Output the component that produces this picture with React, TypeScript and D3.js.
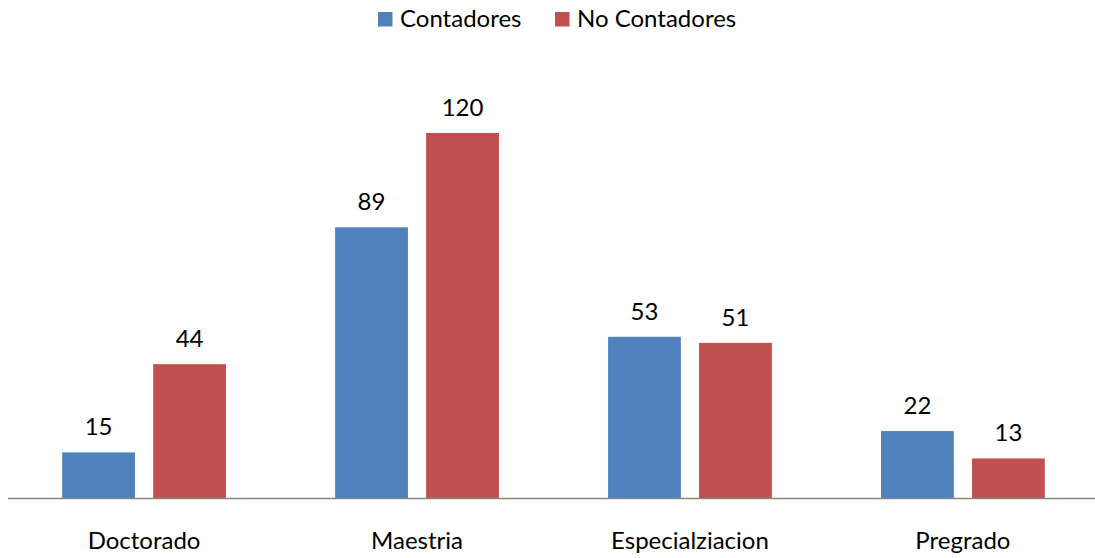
import React from "react";
import * as d3 from "d3";

const categories = ["Doctorado", "Maestria", "Especialziacion", "Pregrado"];
const seriesNames = ["Contadores", "No Contadores"];
const contadores = [15, 89, 53, 22];
const noContadores = [44, 120, 51, 13];
const colors = ["#4F81BD", "#C0504D"];

const W = 1095;
const H = 558;
const FONT = "Lato, 'Open Sans', sans-serif";
const FS = 24;

export default function App() {
  const x0 = d3.scaleBand<string>().domain(categories).range([7.6, 1099.4]).paddingInner(0.4).paddingOuter(0.2);
  const x1 = d3.scaleBand<string>().domain(seriesNames).range([0, x0.bandwidth()]).paddingInner(0.2);
  const y = d3.scaleLinear().domain([0, 140]).range([498, 498 - 140 * (365 / 120)]);
  const values = [contadores, noContadores];

  return (
    <svg width={W} height={H} style={{ position: "absolute", left: 0, top: 0 }} fontFamily={FONT}>
      <rect width={W} height={H} fill="#fff" />
      {categories.map((c, i) => (
        <g key={c}>
          {seriesNames.map((s, j) => {
            const v = values[j][i];
            const bx = (x0(c) as number) + (x1(s) as number);
            return (
              <g key={s}>
                <rect x={bx} y={y(v)} width={x1.bandwidth()} height={y(0) - y(v)} fill={colors[j]} />
                <text x={bx + x1.bandwidth() / 2} y={y(v) - 17} textAnchor="middle" fontSize={FS} fill="#000">
                  {v}
                </text>
              </g>
            );
          })}
          <text x={(x0(c) as number) + x0.bandwidth() / 2} y={549} textAnchor="middle" fontSize={FS} fill="#000">
            {c}
          </text>
        </g>
      ))}
      <line x1={8} x2={W} y1={498.5} y2={498.5} stroke="#868686" strokeWidth={1.5} />
      <g>
        <rect x={378} y={12} width={14.5} height={14.5} fill={colors[0]} />
        <text x={400} y={26.5} fontSize={FS} fill="#000">{seriesNames[0]}</text>
        <rect x={555} y={12} width={14.5} height={14.5} fill={colors[1]} />
        <text x={577} y={26.5} fontSize={FS} fill="#000">{seriesNames[1]}</text>
      </g>
    </svg>
  );
}
